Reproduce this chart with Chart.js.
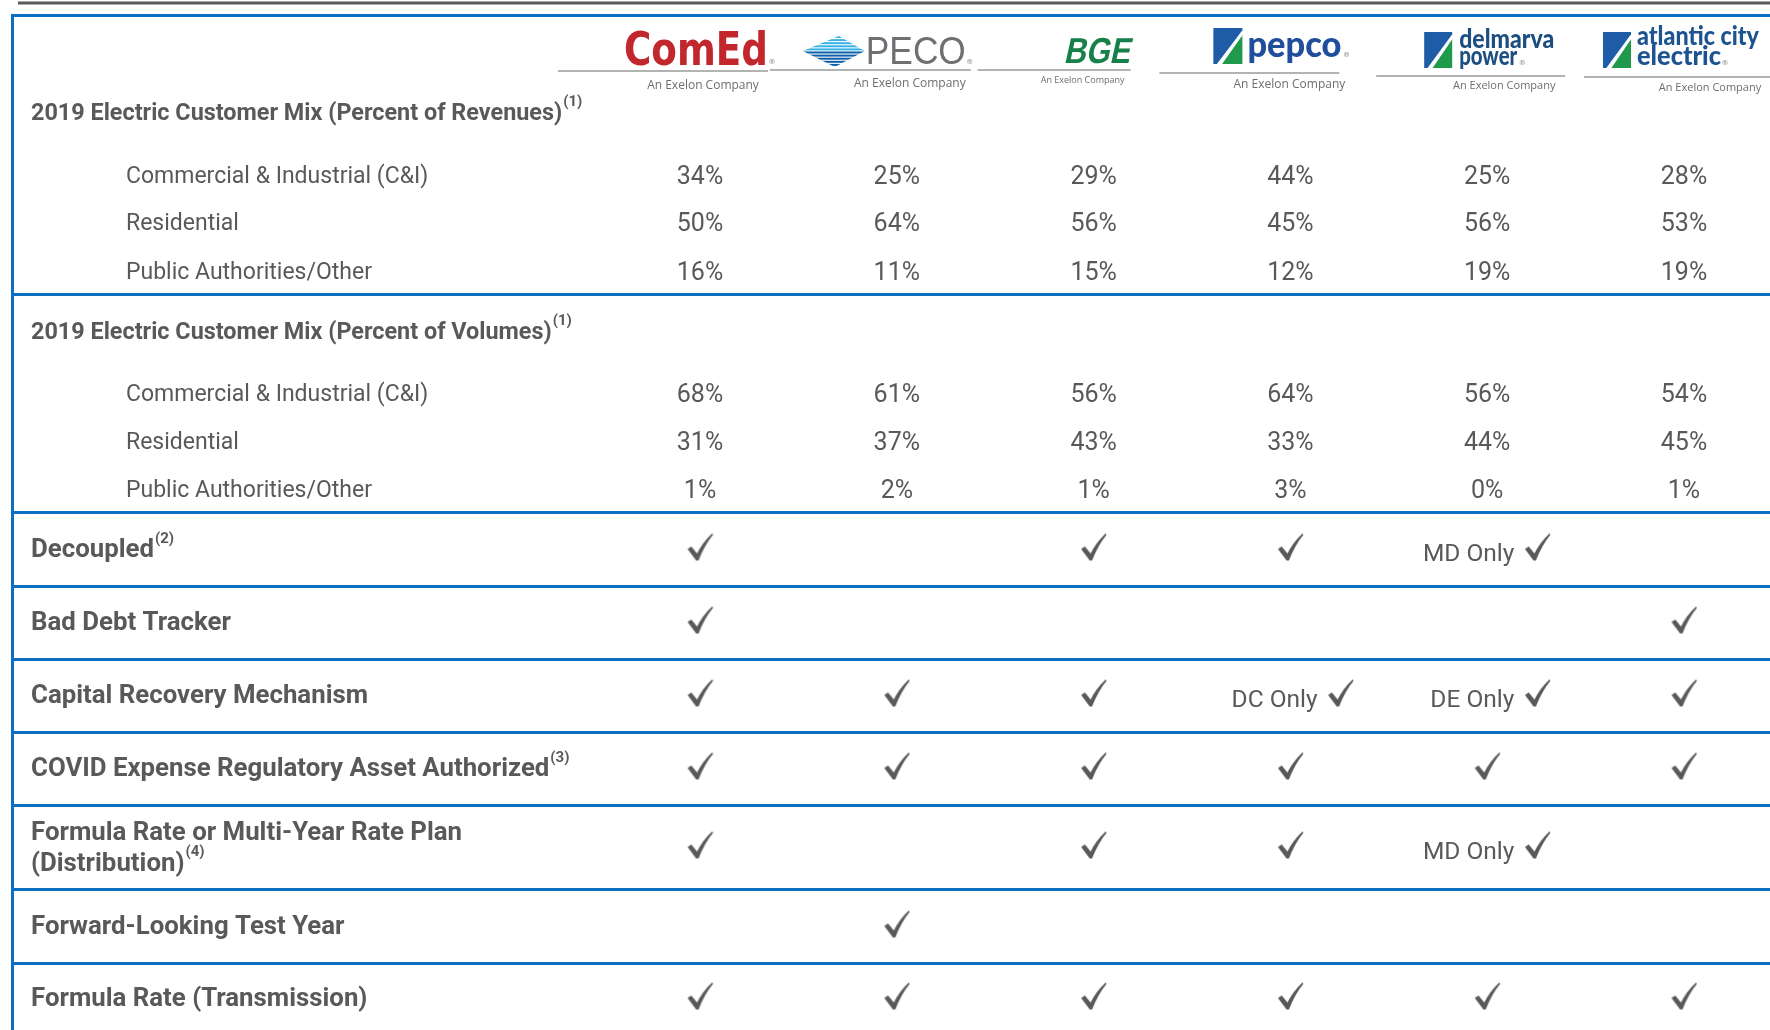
<!DOCTYPE html>
<html>
<head>
<meta charset="utf-8">
<script src="https://cdn.jsdelivr.net/npm/chart.js@4.4.1/dist/chart.umd.min.js"></script>
<style>
  html, body { margin: 0; padding: 0; background: #fff; overflow: hidden; }
  #wrap { width: 1770px; height: 1030px; position: relative; overflow: hidden; }
  #wrap canvas { display: block; }
</style>
</head>
<body>
<div id="wrap"><canvas id="myChart"></canvas></div>
<script>
// Utilities (columns)
const companies = ["ComEd", "PECO", "BGE", "Pepco", "Delmarva Power", "Atlantic City Electric"];

// 2019 electric customer mix, percent of revenues
const revenueCI = [34, 25, 29, 44, 25, 28];
const revenueResidential = [50, 64, 56, 45, 56, 53];
const revenuePublic = [16, 11, 15, 12, 19, 19];

// 2019 electric customer mix, percent of volumes
const volumeCI = [68, 61, 56, 64, 56, 54];
const volumeResidential = [31, 37, 43, 33, 44, 45];
const volumePublic = [1, 2, 1, 3, 0, 1];

// regulatory mechanisms: true = yes, text = yes in that jurisdiction only, null = no
const decoupled = [true, null, true, true, "MD Only", null];
const badDebtTracker = [true, null, null, null, null, true];
const capitalRecovery = [true, true, true, "DC Only", "DE Only", true];
const covidAsset = [true, true, true, true, true, true];
const formulaRateDistribution = [true, null, true, true, "MD Only", null];
const forwardTestYear = [null, true, null, null, null, null];
const formulaRateTransmission = [true, true, true, true, true, true];

// row labels and footnote marks
const rowLabels = [
  "2019 Electric Customer Mix (Percent of Revenues)",
  "Commercial & Industrial (C&I)", "Residential", "Public Authorities/Other",
  "2019 Electric Customer Mix (Percent of Volumes)",
  "Commercial & Industrial (C&I)", "Residential", "Public Authorities/Other",
  "Decoupled",
  "Bad Debt Tracker",
  "Capital Recovery Mechanism",
  "COVID Expense Regulatory Asset Authorized",
  "Formula Rate or Multi-Year Rate Plan\n(Distribution)",
  "Forward-Looking Test Year",
  "Formula Rate (Transmission)"
];
const rowNotes = ["(1)", "", "", "", "(1)", "", "", "", "(2)", "", "", "(3)", "(4)", "", ""];

// ---- layout (table geometry in y-scale units, not data) ----
const rowCenters = [112, 175, 222, 271, 331, 393, 441, 489, 549, 622, 695, 768, 847, 926, 998];
const rowSeparators = [15, 294, 512, 586, 659, 732, 805, 889, 963];
const mixHeads = [0, 4];
const subRows = [1, 2, 3, 5, 6, 7];

const percentRows = [
  [1, revenueCI], [2, revenueResidential], [3, revenuePublic],
  [5, volumeCI], [6, volumeResidential], [7, volumePublic]
];
const mechanismRows = [
  [8, decoupled], [9, badDebtTracker], [10, capitalRecovery], [11, covidAsset],
  [12, formulaRateDistribution], [13, forwardTestYear], [14, formulaRateTransmission]
];

const TEXT = "#595959";
const BLUE = "#0b6fc2";
const QUAL_SHIFT = 0.255; // check moves right of centre when a jurisdiction note is shown

// checkmark glyph used as the point style
const makeCheck = () => {
  const c = document.createElement("canvas");
  c.width = 27;
  c.height = 29;
  const g = c.getContext("2d");
  g.fillStyle = TEXT;
  g.beginPath();
  g.moveTo(1, 16.5);
  g.lineTo(4.8, 14);
  g.lineTo(10.5, 21);
  g.quadraticCurveTo(16, 10, 25.5, 1);
  g.lineTo(26.5, 2.2);
  g.quadraticCurveTo(18, 12.5, 12, 28);
  g.lineTo(9.6, 28);
  g.closePath();
  g.fill();
  return c;
};
const checkMark = makeCheck();

// ---- logo helpers ----
const fitText = (ctx, text, x, y, w) => {
  const m = ctx.measureText(text).width;
  ctx.save();
  ctx.translate(x, y);
  ctx.scale(w / m, 1);
  ctx.textAlign = "left";
  ctx.textBaseline = "alphabetic";
  ctx.fillText(text, 0, 0);
  ctx.restore();
};
const rule = (ctx, x1, x2, y) => {
  ctx.strokeStyle = "#9a9a9a";
  ctx.lineWidth = 1.3;
  ctx.beginPath();
  ctx.moveTo(x1, y);
  ctx.lineTo(x2, y);
  ctx.stroke();
};
const exelon = (ctx, x, y, size) => {
  ctx.font = `${size}px "Open Sans"`;
  ctx.fillStyle = "#6e6e6e";
  ctx.textAlign = "center";
  ctx.textBaseline = "middle";
  ctx.fillText("An Exelon Company", x, y);
};
const slashIcon = (ctx, x, y, w, h) => {
  ctx.fillStyle = "#1f5ca8";
  ctx.beginPath();
  ctx.moveTo(x, y);
  ctx.lineTo(x + w, y);
  ctx.lineTo(x + w, y + h * 0.06);
  ctx.lineTo(x + w * 0.12, y + h);
  ctx.lineTo(x, y + h);
  ctx.closePath();
  ctx.fill();
  ctx.fillStyle = "#1f9a4c";
  ctx.beginPath();
  ctx.moveTo(x + w, y + h * 0.2);
  ctx.lineTo(x + w, y + h);
  ctx.lineTo(x + w * 0.3, y + h);
  ctx.closePath();
  ctx.fill();
};
const reg = (ctx, x, y) => {
  ctx.font = '7px "DejaVu Sans"';
  ctx.fillStyle = "#888";
  ctx.textAlign = "center";
  ctx.textBaseline = "middle";
  ctx.fillText("®", x, y);
};

const logoDrawers = [
  (ctx, cx) => {
    ctx.font = '900 46px "DejaVu Sans"';
    ctx.fillStyle = "#c1272d";
    fitText(ctx, "ComEd", cx - 76, 65, 144);
    reg(ctx, cx + 72, 62);
    rule(ctx, cx - 142, cx + 68, 71);
    exelon(ctx, cx + 3, 86, 12);
  },
  (ctx, cx) => {
    // striped arrow emblem
    ctx.save();
    ctx.beginPath();
    ctx.moveTo(cx - 94, 51);
    ctx.lineTo(cx - 58, 36);
    ctx.lineTo(cx - 32, 51);
    ctx.lineTo(cx - 62, 67);
    ctx.closePath();
    ctx.clip();
    for (let k = 0; k < 10; k++) {
      ctx.fillStyle = k < 5 ? "#38b2e6" : "#0d5ea9";
      ctx.fillRect(cx - 96, 36 + k * 3.1, 66, 2);
    }
    ctx.restore();
    ctx.font = '38px "Liberation Sans"';
    ctx.fillStyle = "#6d6f72";
    fitText(ctx, "PECO", cx - 31, 64, 100);
    reg(ctx, cx + 73, 62);
    rule(ctx, cx - 127, cx + 74, 70);
    exelon(ctx, cx + 13, 84, 12);
  },
  (ctx, cx) => {
    ctx.save();
    ctx.translate(cx, 63);
    ctx.transform(1, 0, -0.22, 1, 0, 0);
    ctx.font = 'bold 36px "Liberation Sans"';
    ctx.fillStyle = "#17804a";
    fitText(ctx, "BGE", -30, 0, 66);
    ctx.restore();
    rule(ctx, cx - 116, cx + 37, 70);
    exelon(ctx, cx - 11, 80, 9);
  },
  (ctx, cx) => {
    slashIcon(ctx, cx - 77, 28, 29, 36);
    ctx.font = '900 36px Lato';
    ctx.fillStyle = "#1f4f9c";
    fitText(ctx, "pepco", cx - 43, 57, 94);
    reg(ctx, cx + 56, 55);
    rule(ctx, cx - 131, cx + 49, 73);
    exelon(ctx, cx - 1, 85, 12);
  },
  (ctx, cx) => {
    slashIcon(ctx, cx - 63, 32, 28, 36);
    ctx.font = '900 26px Lato';
    ctx.fillStyle = "#1d4e80";
    fitText(ctx, "delmarva", cx - 28, 48, 95);
    fitText(ctx, "power", cx - 28, 65, 58);
    reg(ctx, cx + 35, 63);
    rule(ctx, cx - 111, cx + 78, 76);
    exelon(ctx, cx + 17, 86, 11);
  },
  (ctx, cx) => {
    slashIcon(ctx, cx - 81, 32, 28, 36);
    ctx.font = '900 26px Lato';
    ctx.fillStyle = "#1d5390";
    fitText(ctx, "atlantic city", cx - 47, 45, 122);
    fitText(ctx, "electric", cx - 47, 65, 84);
    reg(ctx, cx + 41, 63);
    rule(ctx, cx - 100, cx + 86, 77);
    exelon(ctx, cx + 26, 88, 11);
  }
];

// ---- datasets ----
const percentSets = percentRows.map(([row, values]) => ({
  label: rowLabels[row],
  kind: "percent",
  data: values.map((v, i) => ({ x: i, y: rowCenters[row], v })),
  pointRadius: 0,
  pointHoverRadius: 0
}));

const checkPoints = [];
mechanismRows.forEach(([row, values]) => {
  values.forEach((v, i) => {
    if (v === null) return;
    const note = typeof v === "string" ? v : "";
    checkPoints.push({ x: note ? i + QUAL_SHIFT : i, y: rowCenters[row] - 2, note });
  });
});

const checkSet = {
  label: "checks",
  kind: "check",
  data: checkPoints,
  pointStyle: checkMark,
  pointRadius: 12,
  pointHoverRadius: 12
};

// ---- drawing plugin for labels, cell text and logos ----
const tablePlugin = {
  id: "tableText",
  beforeDraw(chart) {
    const { ctx } = chart;
    ctx.save();
    ctx.fillStyle = "#fff";
    ctx.fillRect(0, 0, chart.width, chart.height);
    ctx.strokeStyle = "#5a5a5a";
    ctx.lineWidth = 3;
    ctx.beginPath();
    ctx.moveTo(18, 3);
    ctx.lineTo(chart.width, 3);
    ctx.stroke();
    ctx.restore();
  },
  afterDatasetsDraw(chart) {
    const { ctx, chartArea, scales } = chart;
    ctx.save();
    ctx.fillStyle = TEXT;
    ctx.textBaseline = "middle";

    // row labels
    rowLabels.forEach((label, r) => {
      const isSub = subRows.includes(r);
      const isMix = mixHeads.includes(r);
      const y = scales.y.getPixelForValue(rowCenters[r]) + 2;
      const x = chartArea.left + (isSub ? 114 : 19);
      const lines = label.split("\n");
      const lineGap = 31;
      const y0 = y - ((lines.length - 1) * lineGap) / 2;
      ctx.font = isSub ? '23px Roboto' : (isMix ? 'bold 23.4px Roboto' : 'bold 25.8px Roboto');
      ctx.textAlign = "left";
      ctx.fillStyle = TEXT;
      lines.forEach((ln, k) => ctx.fillText(ln, x, y0 + k * lineGap));
      if (rowNotes[r]) {
        const lastY = y0 + (lines.length - 1) * lineGap;
        const w = ctx.measureText(lines[lines.length - 1]).width;
        ctx.font = 'bold 15px Roboto';
        ctx.fillText(rowNotes[r], x + w + 1, lastY - 12);
      }
    });

    // cell values
    chart.data.datasets.forEach((ds, di) => {
      const meta = chart.getDatasetMeta(di);
      meta.data.forEach((el, j) => {
        const pt = ds.data[j];
        if (ds.kind === "percent") {
          ctx.font = '25px Roboto';
          ctx.textAlign = "center";
          ctx.fillText(pt.v + "%", el.x, el.y + 2.5);
        } else if (ds.kind === "check" && pt.note) {
          ctx.font = '24.5px Roboto';
          ctx.textAlign = "right";
          ctx.fillText(pt.note, el.x - 23, el.y + 8);
        }
      });
    });

    // company logos above the columns
    companies.forEach((c, i) => {
      const cx = scales.x.getPixelForValue(i);
      ctx.save();
      logoDrawers[i](ctx, cx);
      ctx.restore();
    });
    ctx.restore();
  }
};

document.addEventListener("DOMContentLoaded", () => {
  const ctx = document.getElementById("myChart");
  new Chart(ctx, {
    type: "scatter",
    data: { datasets: [...percentSets, checkSet] },
    options: {
      responsive: true,
      maintainAspectRatio: false,
      animation: false,
      events: [],
      layout: { autoPadding: false, padding: { left: 12, top: 15, right: 0, bottom: 0 } },
      scales: {
        x: {
          type: "linear",
          display: false,
          min: -3.496,
          max: 5.437
        },
        y: {
          type: "linear",
          reverse: true,
          min: 15,
          max: 1030,
          afterBuildTicks: (scale) => {
            scale.ticks = rowSeparators.map((v) => ({ value: v }));
          },
          ticks: { display: false },
          grid: { color: BLUE, lineWidth: 3, drawTicks: false },
          border: { display: true, color: BLUE, width: 3 }
        }
      },
      plugins: {
        legend: { display: false },
        tooltip: { enabled: false }
      }
    },
    plugins: [tablePlugin]
  });
});
</script>
</body>
</html>
